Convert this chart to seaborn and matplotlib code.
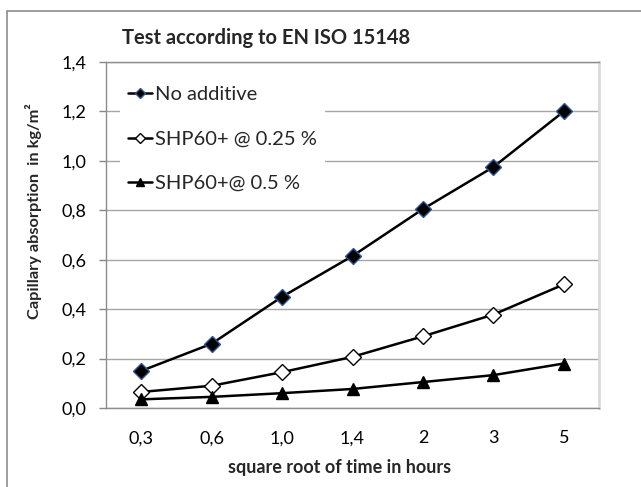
import matplotlib
matplotlib.use("Agg")
import matplotlib.pyplot as plt
import matplotlib.patches as patches
import seaborn as sns
import numpy as np

# data
categories = ["0,3", "0,6", "1,0", "1,4", "2", "3", "5"]
no_additive = [0.15, 0.26, 0.45, 0.615, 0.805, 0.975, 1.20]
shp_025 = [0.065, 0.09, 0.145, 0.207, 0.29, 0.378, 0.50]
shp_05 = [0.035, 0.045, 0.06, 0.077, 0.105, 0.133, 0.18]
series_names = ["No additive", "SHP60+ @ 0.25 %", "SHP60+@ 0.5 %"]
y_ticks = [0.0, 0.2, 0.4, 0.6, 0.8, 1.0, 1.2, 1.4]

sns.set_theme(style="white")
plt.rcParams["font.family"] = ["Lato", "DejaVu Sans"]

fig = plt.figure(figsize=(6.41, 4.87), dpi=100)
ax = fig.add_axes([106 / 641, 1 - 408 / 487, 493 / 641, 346 / 487])

pos = np.arange(len(categories))

# grid first
ax.set_axisbelow(True)
ax.yaxis.grid(True, color="#a6a6a6", lw=1)

styles = [
    dict(marker="D", markerfacecolor="black", markeredgecolor="#2f5597", markersize=8),
    dict(marker="D", markerfacecolor="white", markeredgecolor="black", markersize=8),
    dict(marker="^", markerfacecolor="black", markeredgecolor="black", markersize=9),
]
for vals, name, st in zip([no_additive, shp_025, shp_05], series_names, styles):
    sns.lineplot(x=pos, y=vals, ax=ax, color="black", lw=1.8, label=name,
                 markeredgewidth=1, **st)

ax.set_xlim(-0.5, len(categories) - 0.5)
ax.set_ylim(0, 1.4)
ax.set_xticks(pos)
ax.set_xticklabels(categories)
ax.set_yticks(y_ticks)
ax.set_yticklabels([f"{v:.1f}".replace(".", ",") for v in y_ticks])
ax.tick_params(axis="x", length=0, pad=16, labelsize=13, colors="black")
ax.tick_params(axis="y", length=5, width=1, color="#888888", direction="out",
               left=True, pad=9, labelsize=13, colors="black")

for side in ["left", "bottom", "top"]:
    ax.spines[side].set_color("#8c8c8c")
    ax.spines[side].set_linewidth(1)
ax.spines["right"].set_color("#d9d9d9")
ax.spines["right"].set_linewidth(2)

ax.set_xlabel("")
ax.set_ylabel("")

leg = ax.legend(loc="upper left", bbox_to_anchor=(120 / 641, 1 - 78 / 487),
                bbox_transform=fig.transFigure, frameon=True, facecolor="white",
                edgecolor="white", framealpha=1, fancybox=False, fontsize=14.5,
                handlelength=1.2, handletextpad=0.12, labelspacing=1.36,
                borderpad=0.4, borderaxespad=0, markerscale=0.7)
leg.get_frame().set_linewidth(0)

fig.text(122 / 641, 1 - 38 / 487, "Test according to EN ISO 15148",
         fontsize=14.5, fontweight="bold", ha="left", va="center")
fig.text(340 / 641, 1 - 467 / 487, "square root of time in hours",
         fontsize=13, fontweight="bold", ha="center", va="center")
fig.text(34 / 641, 1 - 211 / 487, "Capillary absorption  in kg/m²",
         fontsize=11.8, fontweight="bold", ha="center", va="center", rotation=90)

# outer chart border (cropped at right and bottom)
fig.patches.append(patches.Rectangle((7 / 641, -0.1), 1.2, 1 - 11 / 487 + 0.1,
                                     transform=fig.transFigure, fill=False,
                                     edgecolor="#8c8c8c", lw=1.2))

fig.savefig("out.png", dpi=100, facecolor="white")
